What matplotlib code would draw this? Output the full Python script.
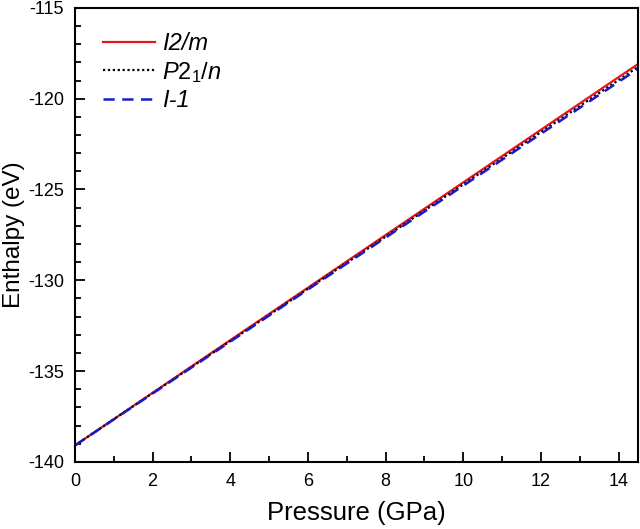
import matplotlib
matplotlib.use("Agg")
import matplotlib.pyplot as plt
from matplotlib.ticker import MultipleLocator

pressure = [0, 2, 4, 6, 8, 10, 12, 14, 15]
h_i2m = [-139.10, -136.20, -133.30, -130.41, -127.51, -124.61, -121.71, -118.81, -117.37]
h_p21n = [-139.10, -136.22, -133.35, -130.47, -127.60, -124.72, -121.84, -118.97, -117.53]
h_i1 = [-139.10, -136.24, -133.38, -130.51, -127.65, -124.79, -121.93, -119.07, -117.64]

plt.rcParams.update({
    "font.family": ["Liberation Sans", "DejaVu Sans"],
    "axes.unicode_minus": False,
    "mathtext.fontset": "custom",
    "mathtext.it": "Liberation Sans:italic",
    "mathtext.rm": "Liberation Sans",
    "mathtext.default": "it",
})

fig = plt.figure(figsize=(6.4, 5.29), dpi=100)
ax = fig.add_axes([0.117, 0.127, 0.880, 0.858])

ax.plot(pressure, h_i2m, color="#e8141c", lw=1.6, label="I2/m")
ax.plot(pressure, h_p21n, color="black", lw=1.6, ls=(0, (1, 1.2)), label="$P2_1/n$")
ax.plot(pressure, h_i1, color="#1a1acc", lw=1.8, ls=(0, (4.5, 3)), label="I-1")

ax.set_xlim(0, 14.5)
ax.set_ylim(-140, -115)
ax.xaxis.set_major_locator(MultipleLocator(2))
ax.xaxis.set_minor_locator(MultipleLocator(1))
ax.yaxis.set_major_locator(MultipleLocator(5))
ax.yaxis.set_minor_locator(MultipleLocator(1))
ax.tick_params(which="both", direction="in", top=False, right=False,
               labelsize=13, width=1.3, pad=8)
ax.tick_params(which="major", length=7)
ax.tick_params(which="minor", length=4)
for sp in ax.spines.values():
    sp.set_linewidth(1.5)

ax.set_xlabel("Pressure (GPa)", fontsize=18.5, labelpad=8)
ax.set_ylabel("Enthalpy (eV)", fontsize=17.5)
ax.yaxis.set_label_coords(-0.088, 0.5)

leg = ax.legend(loc="upper left", frameon=False, fontsize=17, handlelength=2.2,
                handletextpad=0.3, labelspacing=0.2,
                bbox_to_anchor=(0.033, 0.968), borderaxespad=0)
for t in leg.get_texts():
    t.set_fontstyle("italic")

fig.savefig("out.png", dpi=100)
